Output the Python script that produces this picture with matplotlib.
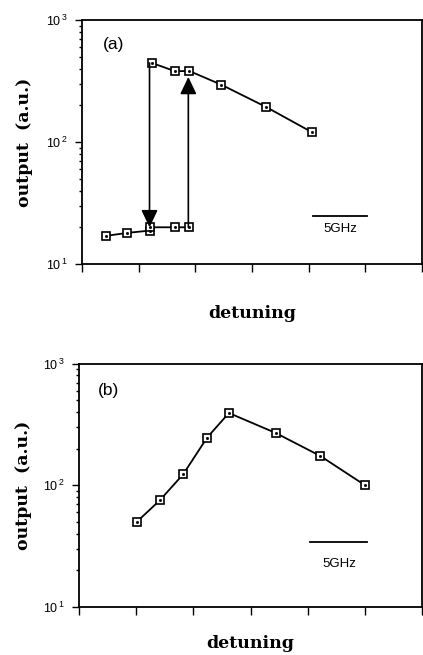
import numpy as np
import matplotlib
matplotlib.use("Agg")
import matplotlib.pyplot as plt
from matplotlib.ticker import LogLocator, FuncFormatter, NullFormatter

# panel (a): bistable branches
xa_low = [0.42, 0.80, 1.20, 1.20, 1.64, 1.89]
ya_low = [17, 18, 18.8, 20, 20, 20]
xa_up = [1.23, 1.64, 1.89, 2.45, 3.25, 4.05]
ya_up = [447, 382, 384, 297, 194, 121]
arrow_down = (1.19, 447, 20)     # x, from, to
arrow_up = (1.875, 20, 343)
bar_a_x = [4.07, 5.02]
bar_a_y = [24.7, 24.7]
bar_a_label = (4.55, 19.5)

# panel (b)
xb = [1.01, 1.41, 1.82, 2.24, 2.62, 3.44, 4.22, 5.00]
yb = [50, 75, 123, 247, 393, 269, 174, 100]
bar_b_x = [4.03, 5.04]
bar_b_y = [34, 34]
bar_b_label = (4.55, 22.5)

serif = {'family': 'DejaVu Serif', 'weight': 'bold', 'size': 12.5}


def sci(v, pos):
    return r'$\mathregular{10^{\,%d}}$' % round(np.log10(v))


def style_axes(ax):
    ax.set_yscale('log')
    ax.set_ylim(10, 1000)
    ax.set_xlim(0, 6)
    ax.set_xticks(range(7))
    ax.set_xticklabels([])
    ax.yaxis.set_major_locator(LogLocator(base=10, numticks=5))
    ax.yaxis.set_minor_locator(LogLocator(base=10, subs=np.arange(2, 10), numticks=20))
    ax.yaxis.set_major_formatter(FuncFormatter(sci))
    ax.yaxis.set_minor_formatter(NullFormatter())
    ax.tick_params(axis='y', which='major', direction='out', length=5, width=1,
                   labelsize=9, pad=5)
    ax.tick_params(axis='y', which='minor', direction='out', length=2.5, width=1)
    ax.tick_params(axis='x', which='major', direction='out', length=6, width=1)
    for lab in ax.get_yticklabels():
        lab.set_family('Liberation Sans')
    for s in ax.spines.values():
        s.set_linewidth(1.3)


def square_line(ax, x, y):
    ax.plot(x, y, color='black', linewidth=1.3, marker='s', markersize=5.5,
            markerfacecolor='white', markeredgecolor='black', markeredgewidth=1.2)
    ax.plot(x, y, linestyle='none', marker='s', markersize=1, color='black')


def arrow(ax, x, y0, y1):
    ax.annotate('', xy=(x, y1), xytext=(x, y0),
                arrowprops=dict(arrowstyle='-|>,head_length=1.05,head_width=0.5',
                                color='black', lw=1.2, shrinkA=0, shrinkB=0))


fig = plt.figure(figsize=(4.23, 6.55), dpi=100)

ax1 = fig.add_axes([0.194, 0.597, 0.804, 0.372])
style_axes(ax1)
arrow(ax1, *arrow_down)
arrow(ax1, *arrow_up)
square_line(ax1, xa_low, ya_low)
square_line(ax1, xa_up, ya_up)
ax1.plot(bar_a_x, bar_a_y, color='black', linewidth=1.3)
ax1.text(bar_a_label[0], bar_a_label[1], '5GHz', fontsize=9.5, family='Liberation Sans',
         ha='center', va='center')
ax1.text(0.06, 0.90, '(a)', transform=ax1.transAxes, fontsize=12.5,
         family='Liberation Sans', ha='left', va='center')
ax1.set_ylabel('output  (a.u.)', fontdict=serif)
ax1.yaxis.set_label_coords(-0.144, 0.5)
ax1.set_xlabel('detuning', fontdict=serif)
ax1.xaxis.set_label_coords(0.5, -0.168)

ax2 = fig.add_axes([0.187, 0.0737, 0.811, 0.371])
style_axes(ax2)
square_line(ax2, xb, yb)
ax2.plot(bar_b_x, bar_b_y, color='black', linewidth=1.3)
ax2.text(bar_b_label[0], bar_b_label[1], '5GHz', fontsize=9.5, family='Liberation Sans',
         ha='center', va='center')
ax2.text(0.055, 0.89, '(b)', transform=ax2.transAxes, fontsize=12.5,
         family='Liberation Sans', ha='left', va='center')
ax2.set_ylabel('output  (a.u.)', fontdict=serif)
ax2.yaxis.set_label_coords(-0.137, 0.5)
ax2.set_xlabel('detuning', fontdict=serif)
ax2.xaxis.set_label_coords(0.5, -0.116)

fig.savefig('out.png', dpi=100)
